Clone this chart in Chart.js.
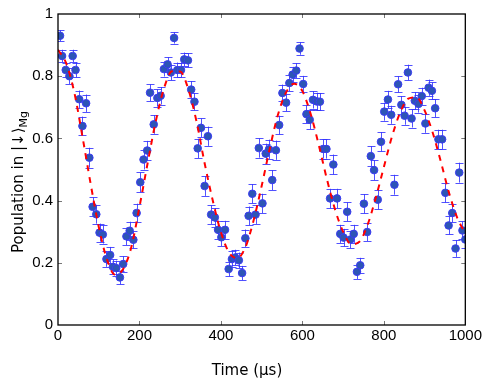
<!DOCTYPE html>
<html>
<head>
<meta charset="utf-8">
<script src="https://cdn.jsdelivr.net/npm/chart.js@4.4.1/dist/chart.umd.min.js"></script>
<style>
  html, body { margin: 0; padding: 0; background: #fff; }
  #wrap { width: 484px; height: 382px; }
</style>
</head>
<body>
<div id="wrap"><canvas id="popChart" width="484" height="382"></canvas></div>
<script>
// Datos medidos: tiempo (µs), poblacion y barra de error
const times = [5, 10, 19, 28, 36, 43, 52, 60, 69, 77, 85, 94, 102, 110, 119, 128, 135, 143, 152, 160,
  168, 176, 185, 193, 202, 210, 219, 226, 235, 244, 252, 260, 269, 277, 285, 293, 302, 310, 319, 327,
  335, 343, 351, 360, 368, 376, 385, 393, 401, 410, 419, 427, 435, 444, 452, 460, 468, 477, 485, 493,
  502, 510, 518, 526, 535, 543, 551, 560, 568, 576, 585, 593, 602, 610, 618, 626, 635, 643, 651, 659,
  668, 676, 685, 693, 701, 710, 718, 726, 734, 742, 751, 759, 768, 776, 785, 793, 801, 810, 818, 826,
  835, 843, 851, 859, 868, 876, 885, 893, 902, 910, 918, 926, 934, 943, 951, 959, 968, 976, 985, 993, 1000];
const population = [0.93, 0.865, 0.82, 0.80, 0.865, 0.82, 0.726, 0.64, 0.713, 0.538, 0.38, 0.356, 0.297, 0.291, 0.212, 0.225, 0.187, 0.183, 0.153, 0.196,
  0.285, 0.303, 0.274, 0.36, 0.459, 0.532, 0.561, 0.747, 0.645, 0.73, 0.737, 0.823, 0.838, 0.812, 0.923, 0.82, 0.82, 0.854, 0.851, 0.757,
  0.718, 0.568, 0.634, 0.447, 0.607, 0.355, 0.346, 0.306, 0.282, 0.306, 0.18, 0.212, 0.217, 0.208, 0.167, 0.279, 0.351, 0.422, 0.355, 0.569,
  0.391, 0.551, 0.565, 0.466, 0.562, 0.643, 0.746, 0.715, 0.778, 0.805, 0.818, 0.889, 0.775, 0.678, 0.66, 0.724, 0.719, 0.718, 0.566, 0.566,
  0.407, 0.516, 0.407, 0.293, 0.281, 0.364, 0.275, 0.293, 0.171, 0.192, 0.39, 0.299, 0.543, 0.498, 0.403, 0.589, 0.686, 0.725, 0.676, 0.451,
  0.774, 0.708, 0.673, 0.812, 0.664, 0.721, 0.711, 0.736, 0.648, 0.763, 0.753, 0.697, 0.597, 0.597, 0.425, 0.32, 0.36, 0.246, 0.49, 0.304, 0.275];
const errors = [0.018, 0.02, 0.024, 0.025, 0.02, 0.024, 0.028, 0.03, 0.028, 0.032, 0.03, 0.03, 0.029, 0.029, 0.025, 0.026, 0.024, 0.024, 0.022, 0.025,
  0.028, 0.029, 0.028, 0.03, 0.032, 0.032, 0.031, 0.027, 0.03, 0.028, 0.028, 0.024, 0.023, 0.025, 0.018, 0.024, 0.024, 0.022, 0.022, 0.027,
  0.028, 0.031, 0.03, 0.032, 0.031, 0.03, 0.03, 0.029, 0.028, 0.029, 0.024, 0.025, 0.025, 0.025, 0.023, 0.028, 0.03, 0.031, 0.03, 0.031,
  0.031, 0.032, 0.031, 0.032, 0.031, 0.03, 0.027, 0.028, 0.026, 0.025, 0.024, 0.02, 0.026, 0.029, 0.03, 0.028, 0.028, 0.028, 0.031, 0.031,
  0.031, 0.032, 0.031, 0.029, 0.028, 0.03, 0.028, 0.029, 0.023, 0.024, 0.031, 0.029, 0.032, 0.032, 0.031, 0.031, 0.029, 0.028, 0.029, 0.032,
  0.026, 0.028, 0.029, 0.025, 0.029, 0.028, 0.028, 0.027, 0.03, 0.026, 0.027, 0.029, 0.031, 0.031, 0.031, 0.029, 0.03, 0.027, 0.032, 0.029, 0.028];

// Curva de ajuste (linea roja discontinua)
const fitTimes = [0, 20, 40, 60, 80, 100, 120, 140, 160, 180, 200, 220, 240, 260, 280, 300, 320, 340, 360, 380,
  400, 420, 440, 460, 480, 500, 520, 540, 560, 580, 600, 620, 640, 660, 680, 700, 720, 740, 760, 780,
  800, 820, 840, 860, 880, 900, 920, 940, 960, 980, 1000];
const fitValues = [0.885, 0.842, 0.748, 0.606, 0.455, 0.316, 0.212, 0.162, 0.18, 0.25, 0.38, 0.52, 0.655, 0.76, 0.816, 0.815, 0.758, 0.655, 0.52, 0.4,
  0.298, 0.233, 0.215, 0.25, 0.335, 0.447, 0.568, 0.676, 0.748, 0.776, 0.752, 0.68, 0.58, 0.47, 0.372, 0.3, 0.26, 0.268, 0.322, 0.408,
  0.508, 0.606, 0.683, 0.728, 0.732, 0.69, 0.618, 0.525, 0.425, 0.345, 0.295];

// Marcas de los ejes
const xTickValues = [0, 200, 400, 600, 800, 1000];
const xTickLabels = ['0', '200', '400', '600', '800', '1000'];
const yTickValues = [0, 0.2, 0.4, 0.6, 0.8, 1];
const yTickLabels = ['0', '0.2', '0.4', '0.6', '0.8', '1'];

const tickFont = { family: "'Liberation Sans', Arial, sans-serif", size: 15 };
const titleFont = "15px 'DejaVu Sans', sans-serif";

// Plugin: barras de error, marco con ticks hacia dentro y titulos
const framePlugin = {
  id: 'framePlugin',
  beforeDatasetsDraw(chart) {
    const { ctx, chartArea, scales: { x, y } } = chart;
    ctx.save();
    ctx.beginPath();
    ctx.rect(chartArea.left, chartArea.top, chartArea.right - chartArea.left, chartArea.bottom - chartArea.top);
    ctx.clip();
    ctx.strokeStyle = 'rgba(50, 50, 255, 0.85)';
    ctx.lineWidth = 1;
    times.forEach((t, i) => {
      const px = Math.round(x.getPixelForValue(t)) + 0.5;
      const top = y.getPixelForValue(population[i] + errors[i]);
      const bot = y.getPixelForValue(population[i] - errors[i]);
      ctx.beginPath();
      ctx.moveTo(px, top); ctx.lineTo(px, bot);
      ctx.moveTo(px - 4, Math.round(top) + 0.5); ctx.lineTo(px + 4, Math.round(top) + 0.5);
      ctx.moveTo(px - 4, Math.round(bot) + 0.5); ctx.lineTo(px + 4, Math.round(bot) + 0.5);
      ctx.stroke();
    });
    ctx.restore();
  },
  afterDraw(chart) {
    const { ctx, chartArea: a, scales: { x, y } } = chart;
    ctx.save();
    // ticks hacia dentro en los cuatro lados
    ctx.strokeStyle = '#777';
    ctx.lineWidth = 1;
    ctx.beginPath();
    xTickValues.slice(1, -1).forEach((v) => {
      const px = Math.round(x.getPixelForValue(v)) + 0.5;
      ctx.moveTo(px, a.bottom); ctx.lineTo(px, a.bottom - 4);
      ctx.moveTo(px, a.top); ctx.lineTo(px, a.top + 4);
    });
    yTickValues.slice(1, -1).forEach((v) => {
      const py = Math.round(y.getPixelForValue(v)) + 0.5;
      ctx.moveTo(a.left, py); ctx.lineTo(a.left + 4, py);
      ctx.moveTo(a.right, py); ctx.lineTo(a.right - 4, py);
    });
    ctx.stroke();
    // marco
    ctx.strokeStyle = '#000';
    ctx.lineWidth = 1.3;
    ctx.strokeRect(a.left, a.top, a.right - a.left, a.bottom - a.top);
    // titulo eje x
    ctx.fillStyle = '#000';
    ctx.font = titleFont;
    ctx.textAlign = 'center';
    ctx.textBaseline = 'middle';
    ctx.fillText('Time (µs)', 247, 371);
    // titulo eje y con subindice
    const main = 'Population in |↓⟩';
    const sub = 'Mg';
    ctx.translate(19, 182);
    ctx.rotate(-Math.PI / 2);
    ctx.font = titleFont;
    const w1 = ctx.measureText(main).width;
    ctx.font = "11px 'DejaVu Sans', sans-serif";
    const w2 = ctx.measureText(sub).width;
    const start = -(w1 + w2) / 2;
    ctx.textAlign = 'left';
    ctx.font = titleFont;
    ctx.fillText(main, start, 0);
    ctx.font = "11px 'DejaVu Sans', sans-serif";
    ctx.fillText(sub, start + w1, 5);
    ctx.restore();
  }
};

const chart = new Chart(document.getElementById('popChart'), {
  data: {
    datasets: [
      {
        type: 'line',
        label: 'fit',
        data: fitTimes.map((t, i) => ({ x: t, y: fitValues[i] })),
        borderColor: '#ff0000',
        borderWidth: 2,
        borderDash: [6, 6],
        pointRadius: 0,
        fill: false,
        cubicInterpolationMode: 'monotone',
        order: 0
      },
      {
        type: 'scatter',
        label: 'data',
        data: times.map((t, i) => ({ x: t, y: population[i] })),
        backgroundColor: '#2d55b6',
        borderColor: '#3b3bf2',
        borderWidth: 1,
        pointRadius: 3.8,
        order: 1
      }
    ]
  },
  options: {
    responsive: false,
    animation: false,
    layout: { padding: { top: 7, right: 16, left: 0, bottom: 0 } },
    plugins: { legend: { display: false }, tooltip: { enabled: false } },
    scales: {
      x: {
        type: 'linear', min: 0, max: 1000,
        afterBuildTicks: (s) => { s.ticks = xTickValues.map((v) => ({ value: v })); },
        afterFit: (s) => { s.height = 57; },
        grid: { display: false, drawTicks: false },
        border: { display: false },
        ticks: { font: tickFont, color: '#000', padding: 2, maxRotation: 0,
          callback: (v) => xTickLabels[xTickValues.indexOf(v)] }
      },
      y: {
        type: 'linear', min: 0, max: 1,
        afterBuildTicks: (s) => { s.ticks = yTickValues.map((v) => ({ value: v })); },
        afterFit: (s) => { s.width = 58; },
        grid: { display: false, drawTicks: false },
        border: { display: false },
        ticks: { font: tickFont, color: '#000', padding: 5,
          callback: (v) => yTickLabels[yTickValues.indexOf(v)] }
      }
    }
  },
  plugins: [framePlugin]
});
</script>
</body>
</html>
